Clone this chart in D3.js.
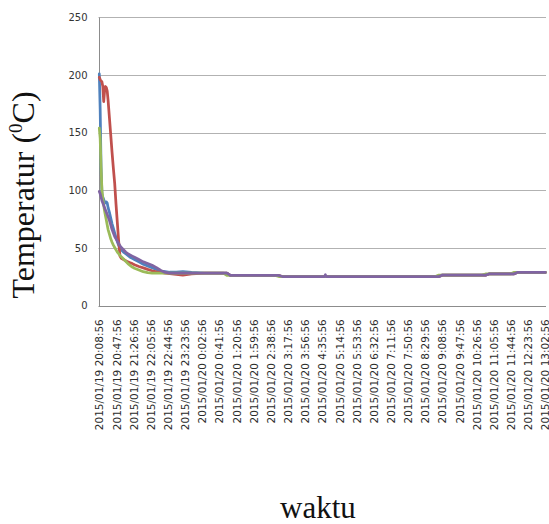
<!DOCTYPE html>
<html>
<head>
<meta charset="utf-8">
<script src="https://cdn.jsdelivr.net/npm/d3@7"></script>
<style>
  html, body { margin: 0; padding: 0; background: #fff; }
  svg { display: block; }
</style>
</head>
<body>
<svg id="chart" width="549" height="524"></svg>
<script>
// Category labels on the time axis (one every 39 minutes)
const timeLabels = [
  "2015/01/19 20:08:56", "2015/01/19 20:47:56", "2015/01/19 21:26:56",
  "2015/01/19 22:05:56", "2015/01/19 22:44:56", "2015/01/19 23:23:56",
  "2015/01/20 0:02:56", "2015/01/20 0:41:56", "2015/01/20 1:20:56",
  "2015/01/20 1:59:56", "2015/01/20 2:38:56", "2015/01/20 3:17:56",
  "2015/01/20 3:56:56", "2015/01/20 4:35:56", "2015/01/20 5:14:56",
  "2015/01/20 5:53:56", "2015/01/20 6:32:56", "2015/01/20 7:11:56",
  "2015/01/20 7:50:56", "2015/01/20 8:29:56", "2015/01/20 9:08:56",
  "2015/01/20 9:47:56", "2015/01/20 10:26:56", "2015/01/20 11:05:56",
  "2015/01/20 11:44:56", "2015/01/20 12:23:56", "2015/01/20 13:02:56"
];

// Sample times, minutes after the first reading
const sampleMinutes = [
  0, 2, 4, 6, 8, 10, 12, 14, 16, 18,
  20, 23, 26, 29, 32, 35, 38, 41, 44, 47,
  50, 55, 60, 65, 70, 75, 80, 90, 100, 110,
  120, 130, 140, 150, 160,
  175, 190, 210, 240,
  282, 290, 298,
  400, 408, 416,
  512, 514, 516,
  764, 772, 780,
  870, 878, 886,
  934, 942, 950,
  1014
];

// Temperatures (°C) of the four probes at those times
const tempBlue = [
  201, 170, 120, 97, 94, 92, 90, 89, 90, 89,
  85, 81, 76, 71, 67, 63, 59, 55.5, 52.5, 50,
  48.5, 46.5, 45, 43.5, 42, 41, 40, 38, 36, 34.5,
  33, 31.5, 30, 29.5, 29,
  29.2, 29.6, 28.8, 28.3,
  28.3, 28.3, 26.2,
  26.2, 26.2, 25.3,
  25.3, 25.3, 25.3,
  25.3, 25.3, 26.5,
  26.5, 26.5, 27.5,
  27.5, 27.5, 28.8,
  28.8
];

const tempRed = [
  198, 196, 195, 194, 190, 177, 186, 190, 189, 186,
  178, 163, 148, 133, 119, 106, 88, 72, 56, 43,
  41, 40, 39, 38, 37.3, 36.5, 35.5, 34, 32.8, 31.5,
  30.3, 29.3, 28.8, 28.3, 27.8,
  27.2, 26.6, 27.5, 28.3,
  28.3, 28.3, 26.2,
  26.2, 26.2, 25.3,
  25.3, 25.3, 25.3,
  25.3, 25.3, 26.5,
  26.5, 26.5, 27.5,
  27.5, 27.5, 28.8,
  28.8
];

const tempGreen = [
  154, 145, 120, 100, 93, 87, 82, 78, 74, 70,
  66, 62, 58, 55, 52.5, 50.5, 48.5, 46.5, 45, 43.5,
  42.5, 40.5, 38.5, 36.5, 35, 33.5, 32.5, 31, 29.5, 28.6,
  28.2, 28.2, 28.2, 28.2, 28.2,
  28.2, 28.2, 28.2, 28.2,
  28.3, 26.2, 26.2,
  26.2, 25.3, 25.3,
  25.3, 25.3, 25.3,
  25.3, 26.5, 26.5,
  26.5, 27.5, 27.5,
  27.5, 28.8, 28.8,
  28.8
];

const tempPurple = [
  99, 97, 94, 91, 89, 87, 85, 83, 81, 79,
  77, 74, 70, 66, 63, 60, 58, 56, 54, 52,
  50.5, 48.5, 46.5, 45, 44, 43, 42, 40, 38, 36.5,
  35, 33, 30.5, 28.8, 28.3,
  28.3, 28.3, 28.3, 28.3,
  28.3, 28.3, 26.2,
  26.2, 26.2, 25.3,
  25.3, 26.8, 25.3,
  25.3, 25.3, 26.5,
  26.5, 26.5, 27.5,
  27.5, 27.5, 28.8,
  28.8
];

const seriesList = [
  { values: tempBlue,   color: "#4F81BD" },
  { values: tempRed,    color: "#C0504D" },
  { values: tempGreen,  color: "#9BBB59" },
  { values: tempPurple, color: "#8064A2" }
];

const yTickValues = [0, 50, 100, 150, 200, 250];

// ---- layout ----
const plotLeft = 98.5, plotRight = 546;
const parseTime = d3.timeParse("%Y/%m/%d %H:%M:%S");
const startTime = parseTime(timeLabels[0]);
const endTime = parseTime(timeLabels[timeLabels.length - 1]);

const x = d3.scaleTime().domain([startTime, endTime]).range([99.3, 545.3]);
const y = d3.scaleLinear().domain([0, 250]).range([305.7, 17.3]);

const svg = d3.select("#chart");
const crisp = v => Math.round(v) + 0.5;

// horizontal gridlines
svg.append("g")
  .selectAll("line")
  .data(yTickValues.filter(d => d > 0))
  .join("line")
  .attr("x1", plotLeft).attr("x2", plotRight)
  .attr("y1", d => crisp(y(d))).attr("y2", d => crisp(y(d)))
  .attr("stroke", "#b2b2b2").attr("stroke-width", 1);

// axis lines
svg.append("line")
  .attr("x1", crisp(plotLeft)).attr("x2", crisp(plotLeft))
  .attr("y1", crisp(y(250))).attr("y2", crisp(y(0)))
  .attr("stroke", "#8c8c8c");
svg.append("line")
  .attr("x1", plotLeft).attr("x2", plotRight)
  .attr("y1", crisp(y(0))).attr("y2", crisp(y(0)))
  .attr("stroke", "#8c8c8c");

// y tick labels
const yAxis = svg.append("g")
  .attr("transform", `translate(${plotLeft},0)`)
  .call(d3.axisLeft(y).tickValues(yTickValues).tickSize(0).tickPadding(11));
yAxis.select(".domain").remove();
yAxis.selectAll("text")
  .attr("font-family", "DejaVu Sans, Verdana, sans-serif")
  .attr("font-size", "10px")
  .attr("fill", "#333");

// x tick labels, rotated
const xAxis = svg.append("g")
  .attr("transform", `translate(0,${y(0)})`)
  .call(d3.axisBottom(x)
    .tickValues(timeLabels.map(parseTime))
    .tickFormat((d, i) => timeLabels[i])
    .tickSize(0));
xAxis.select(".domain").remove();
xAxis.selectAll("text")
  .attr("transform", "rotate(-90)")
  .attr("text-anchor", "end")
  .attr("x", -13.5)
  .attr("y", 0)
  .attr("dy", "0.34em")
  .attr("font-family", "DejaVu Sans, Verdana, sans-serif")
  .attr("font-size", "10.5px")
  .attr("fill", "#2b2b2b");

// temperature lines
const line = d3.line()
  .x((d, i) => x(d3.timeMinute.offset(startTime, sampleMinutes[i])))
  .y(d => y(d));

svg.append("g")
  .selectAll("path")
  .data(seriesList)
  .join("path")
  .attr("d", s => line(s.values))
  .attr("fill", "none")
  .attr("stroke", s => s.color)
  .attr("stroke-width", 2.75)
  .attr("stroke-linejoin", "round")
  .attr("stroke-linecap", "round");

// axis titles
const yTitle = svg.append("text")
  .attr("transform", "translate(34,195) rotate(-90)")
  .attr("text-anchor", "middle")
  .attr("font-family", "Liberation Serif, Times New Roman, serif")
  .attr("font-size", "32px")
  .attr("fill", "#111");
yTitle.append("tspan").text("Temperatur (");
yTitle.append("tspan").attr("font-size", "19px").attr("dy", "-12").text("0");
yTitle.append("tspan").attr("dy", "12").text("C)");

svg.append("text")
  .attr("x", 318).attr("y", 518)
  .attr("text-anchor", "middle")
  .attr("font-family", "Liberation Serif, Times New Roman, serif")
  .attr("font-size", "31px")
  .attr("fill", "#111")
  .text("waktu");
</script>
</body>
</html>
